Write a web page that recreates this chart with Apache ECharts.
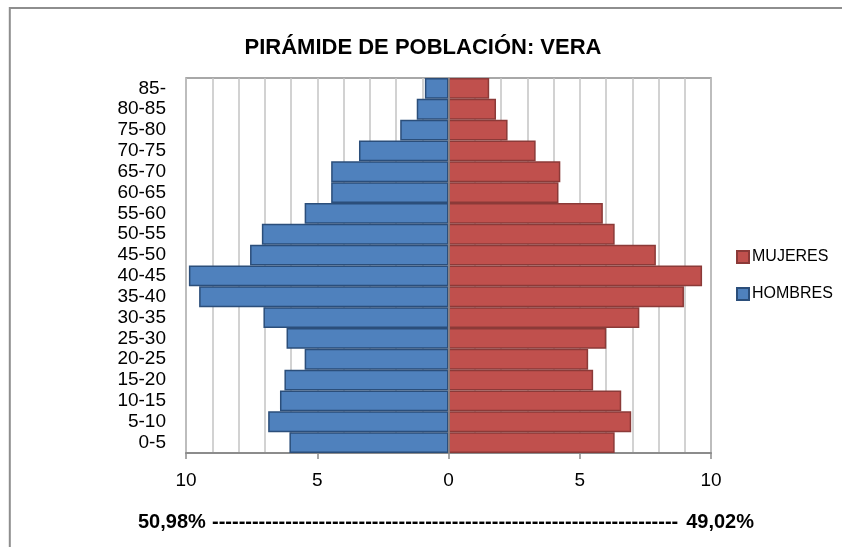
<!DOCTYPE html>
<html>
<head>
<meta charset="utf-8">
<script src="https://cdn.jsdelivr.net/npm/echarts@6/dist/echarts.min.js"></script>
<style>
  html, body { margin: 0; padding: 0; background: #fff; }
  #chart { width: 842px; height: 547px; }
</style>
</head>
<body>
<div id="chart"></div>
<script>
// Age groups, youngest at the bottom
const ageGroups = ['0-5', '5-10', '10-15', '15-20', '20-25', '25-30', '30-35', '35-40', '40-45',
                   '45-50', '50-55', '55-60', '60-65', '65-70', '70-75', '75-80', '80-85', '85-'];
// Share of each sex per age group (%)
const hombres = [6.06, 6.87, 6.42, 6.25, 5.48, 6.17, 7.05, 9.50, 9.89,
                 7.56, 7.11, 5.48, 4.47, 4.47, 3.41, 1.84, 1.21, 0.90];
const mujeres = [6.33, 6.96, 6.58, 5.51, 5.32, 6.01, 7.27, 8.97, 9.66,
                 7.90, 6.33, 5.88, 4.19, 4.26, 3.32, 2.25, 1.81, 1.55];
const axisTicks = [-10, -5, 0, 5, 10];
const totalHombres = '50,98%';
const totalMujeres = '49,02%';

const FONT = "'Liberation Sans', Arial, sans-serif";
const chart = echarts.init(document.getElementById('chart'));

chart.setOption({
  animation: false,
  backgroundColor: '#ffffff',
  textStyle: { fontFamily: FONT },
  title: {
    text: 'PIRÁMIDE DE POBLACIÓN: VERA',
    left: 418, top: 32, textAlign: 'center',
    textStyle: { fontFamily: FONT, fontSize: 22, fontWeight: 'bold', color: '#000' }
  },
  legend: {
    data: ['MUJERES', 'HOMBRES'],
    orient: 'vertical',
    left: 731, top: 244,
    icon: 'rect',
    itemWidth: 12, itemHeight: 12, itemGap: 21,
    textStyle: { fontFamily: FONT, fontSize: 16, color: '#000', padding: [0, 0, 0, -2] }
  },
  grid: {
    left: 186, top: 78, width: 525, height: 375,
    show: true, borderColor: '#8c8c8c', borderWidth: 1.5
  },
  xAxis: {
    type: 'value',
    min: axisTicks[0], max: axisTicks[axisTicks.length - 1], interval: 5,
    axisLine: { show: true, lineStyle: { color: '#8c8c8c', width: 2 } },
    axisTick: { show: true, length: 6, lineStyle: { color: '#8c8c8c', width: 1.5 } },
    axisLabel: {
      margin: 18, fontSize: 19, color: '#000', fontFamily: FONT,
      formatter: v => String(Math.abs(v))
    },
    splitLine: { show: true, lineStyle: { color: '#c4c4c4', width: 1.5 } },
    minorTick: { show: false, splitNumber: 5 },
    minorSplitLine: { show: true, lineStyle: { color: '#c4c4c4', width: 1.5 } }
  },
  yAxis: {
    type: 'category',
    data: ageGroups,
    axisLine: { show: false },
    axisTick: { show: false },
    axisLabel: { margin: 20, fontSize: 19, color: '#000', fontFamily: FONT, interval: 0 }
  },
  series: [
    {
      name: 'HOMBRES',
      type: 'bar',
      stack: 'piramide',
      barCategoryGap: '0%',
      data: hombres.map(v => -v),
      itemStyle: { color: '#4f81bd', borderColor: '#2b4e7a', borderWidth: 1.5 },
      markLine: {
        silent: true, symbol: 'none', label: { show: false },
        lineStyle: { color: '#8c8c8c', width: 1.5, type: 'solid' },
        data: [{ xAxis: 0 }],
        z: 10
      }
    },
    {
      name: 'MUJERES',
      type: 'bar',
      stack: 'piramide',
      barCategoryGap: '0%',
      data: mujeres,
      itemStyle: { color: '#c0504d', borderColor: '#8b3a38', borderWidth: 1.5 }
    }
  ],
  graphic: [
    {
      type: 'rect', silent: true,
      shape: { x: 9.8, y: 8, width: 900, height: 600 },
      style: { fill: 'none', stroke: '#8e8e8e', lineWidth: 2 }
    },
    {
      type: 'text', left: 138, top: 512,
      style: { text: totalHombres, font: 'bold 20px ' + FONT, fill: '#000' }
    },
    {
      type: 'text', left: 212, top: 512,
      style: { text: '-'.repeat(70), font: 'bold 20px ' + FONT, fill: '#000' }
    },
    {
      type: 'text', right: 842 - 754, top: 512,
      style: { text: totalMujeres, font: 'bold 20px ' + FONT, fill: '#000' }
    }
  ]
});
</script>
</body>
</html>
